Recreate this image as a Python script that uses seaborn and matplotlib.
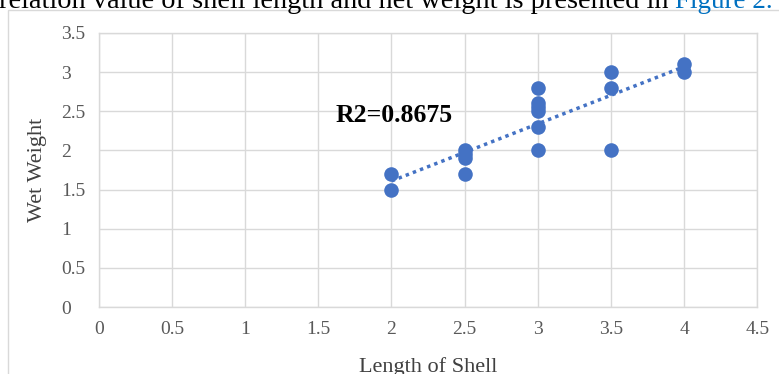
import numpy as np
import pandas as pd
import matplotlib.pyplot as plt
import seaborn as sns
from matplotlib.patches import Rectangle

# values
shell_length = [2, 2, 2.5, 2.5, 2.5, 2.5, 3, 3, 3, 3, 3, 3, 3.5, 3.5, 3.5, 4, 4]
wet_weight = [1.7, 1.5, 2.0, 1.95, 1.9, 1.7, 2.8, 2.6, 2.55, 2.5, 2.3, 2.0, 3.0, 2.8, 2.0, 3.1, 3.0]
x_ticks = [0, 0.5, 1, 1.5, 2, 2.5, 3, 3.5, 4, 4.5]
y_ticks = [0, 0.5, 1, 1.5, 2, 2.5, 3, 3.5]
r2_label = "R2=0.8675"

df = pd.DataFrame({"Length of Shell": shell_length, "Wet Weight": wet_weight})

sns.set_theme(style="white")
plt.rcParams['font.family'] = ['Liberation Serif', 'DejaVu Serif']

blue = "#4472C4"
fig = plt.figure(figsize=(7.79, 3.74), dpi=100)
ax = fig.add_axes([0.127, 0.179, 0.845, 0.733])

# outer chart frame and the cut-off caption line above it
fig.patches.append(Rectangle((8 / 779, -0.1), 1.0, 1 - 10 / 374 + 0.1, transform=fig.transFigure,
                             fill=False, edgecolor="#d9d9d9", linewidth=1))
cap_y = 1 - 8 / 374
fig_ref = fig.text(773 / 779, cap_y, "Figure 2.", fontsize=19.5, color="#0070C0", va="baseline", ha="right")
fig.canvas.draw()
bb = fig_ref.get_window_extent().transformed(fig.transFigure.inverted())
fig.text(bb.x0, cap_y, "relation value of shell length and net weight is presented in ",
         fontsize=20.4, color="black", va="baseline", ha="right")

# trendline (linear fit over the data)
slope, intercept = np.polyfit(df["Length of Shell"], df["Wet Weight"], 1)
xs = np.array([min(shell_length), max(shell_length)])
sns.lineplot(x=xs, y=slope * xs + intercept, ax=ax, color=blue, linestyle=(0, (1, 1.2)), linewidth=2.5)

sns.scatterplot(data=df, x="Length of Shell", y="Wet Weight", ax=ax, color=blue, s=110,
                edgecolor=blue, linewidth=0, zorder=3)

ax.set_xlim(0, 4.5)
ax.set_ylim(0, 3.5)
ax.set_xticks(x_ticks)
ax.set_yticks(y_ticks)
ax.set_xticklabels([f"{v:g}" for v in x_ticks])
ax.set_yticklabels([f"{v:g}" for v in y_ticks], ha="left")
ax.grid(True, color="#d9d9d9", linewidth=1)
for s in ax.spines.values():
    s.set_color("#d9d9d9")
    s.set_linewidth(1)
ax.tick_params(axis="x", length=0, labelsize=14, labelcolor="#595959", pad=10)
ax.tick_params(axis="y", length=0, labelsize=14, labelcolor="#595959", pad=27)
ax.set_xlabel("Length of Shell", fontsize=16, color="#404040", labelpad=14)
ax.set_ylabel("Wet Weight", fontsize=16, color="#404040", va="center")
ax.yaxis.set_label_coords(-0.094, 0.5)

ax.text(2.42, 2.44, r2_label, fontsize=18.5, fontweight="bold", color="black", ha="right", va="center")

fig.savefig("out.png", dpi=100)
plt.close()
